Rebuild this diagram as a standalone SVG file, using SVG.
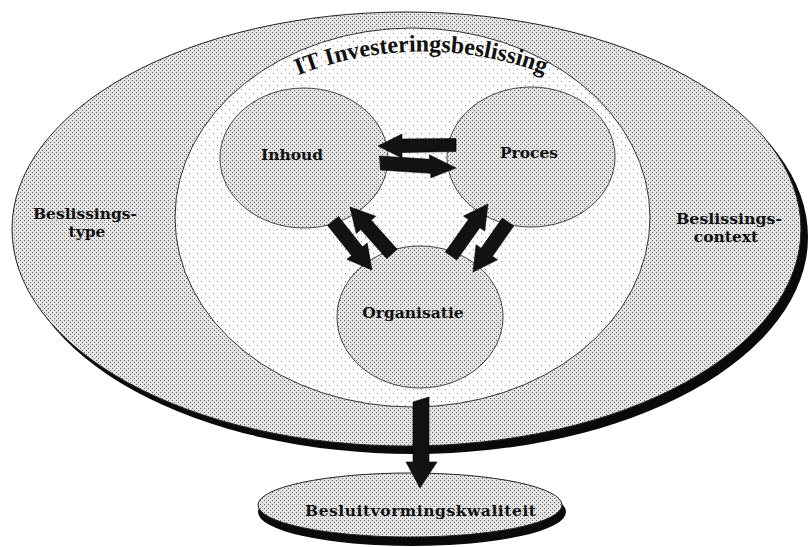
<svg xmlns="http://www.w3.org/2000/svg" width="809" height="547" viewBox="0 0 809 547">
  <defs>
    <!-- fine halftone used for the grey areas -->
    <pattern id="halftone" width="4" height="4" patternUnits="userSpaceOnUse">
      <rect width="4" height="4" fill="#e3e3e3"/>
      <rect x="0" y="0" width="1" height="1" fill="#666"/>
      <rect x="2" y="2" width="1" height="1" fill="#666"/>
    </pattern>
    <!-- sparse dot screen for the light inner area -->
    <pattern id="sparse" width="8" height="8" patternUnits="userSpaceOnUse">
      <rect width="8" height="8" fill="#fcfcfc"/>
      <rect x="1" y="1" width="1" height="1" fill="#888"/>
      <rect x="5" y="5" width="1" height="1" fill="#888"/>
    </pattern>
    <path id="itArc" d="M 298,75.4 A 340 340 0 0 1 548,75.4"/>
  </defs>
  <style>
    .shadow { fill: #0a0a0a; }
    .grey { fill: url(#halftone); stroke: #222; stroke-width: 1; }
    .light { fill: url(#sparse); stroke: #333; stroke-width: 1; }
    .sub { fill: url(#halftone); stroke: #333; stroke-width: 0.9; }
    .arrow { fill: #121212; stroke: #000; stroke-width: 0.6; stroke-linejoin: miter; }
    .lbl { font-family: "DejaVu Serif", "Liberation Serif", serif; font-weight: bold; font-size: 15.5px; fill: #111; text-anchor: middle; }
    .arc { font-family: "Liberation Serif", "DejaVu Serif", serif; font-weight: bold; font-size: 24px; fill: #111; }
  </style>

  <!-- outer context ellipse -->
  <g id="context">
    <ellipse class="shadow" cx="413" cy="237" rx="395" ry="217"/>
    <ellipse class="grey" cx="406.5" cy="229" rx="394.5" ry="217"/>
    <text class="lbl" x="85" y="219" textLength="104" lengthAdjust="spacingAndGlyphs">Beslissings-</text>
    <text class="lbl" x="87" y="237">type</text>
    <text class="lbl" x="729" y="224" textLength="106" lengthAdjust="spacingAndGlyphs">Beslissings-</text>
    <text class="lbl" x="726" y="242">context</text>
  </g>

  <!-- IT investment decision area -->
  <g id="it-beslissing">
    <ellipse class="light" cx="412.5" cy="217.5" rx="237.5" ry="189.5"/>
    <text class="arc"><textPath href="#itArc" textLength="252" lengthAdjust="spacingAndGlyphs">IT Investeringsbeslissing</textPath></text>
  </g>

  <g id="inhoud">
    <ellipse class="sub" cx="304" cy="158" rx="84" ry="70"/>
    <text class="lbl" x="292" y="160">Inhoud</text>
  </g>

  <g id="proces">
    <ellipse class="sub" cx="531" cy="157" rx="84" ry="70"/>
    <text class="lbl" x="529" y="158">Proces</text>
  </g>

  <g id="organisatie">
    <ellipse class="sub" cx="420" cy="317" rx="83" ry="71"/>
    <text class="lbl" x="413" y="318">Organisatie</text>
  </g>

  <!-- outcome ellipse -->
  <g id="kwaliteit">
    <ellipse class="shadow" cx="412" cy="512" rx="154" ry="34"/>
    <ellipse class="grey" cx="410" cy="505" rx="152" ry="32"/>
    <text class="lbl" x="420.5" y="516" textLength="231" lengthAdjust="spacing">Besluitvormingskwaliteit</text>
  </g>

  <!-- connectors -->
  <g id="connectors">
    <!-- Proces -> Inhoud -->
    <polygon class="arrow" points="456,138.5 402,139 402,134 378,146 402,158 402,152.5 456,151.5"/>
    <!-- Inhoud -> Proces -->
    <polygon class="arrow" points="379.5,156 429.6,159.3 429.3,154.8 456,168 430.9,177.8 430.6,173.3 380.5,170"/>
    <!-- Inhoud -> Organisatie -->
    <polygon class="arrow" points="338.5,216.6 362.5,246.8 367.2,243.1 372,270 346.9,259.3 351.6,255.6 327.5,225.4"/>
    <!-- Organisatie -> Inhoud -->
    <polygon class="arrow" points="397.2,249.3 371.2,220.2 375.7,216.2 350,207 356.3,233.6 360.8,229.6 386.8,258.7"/>
    <!-- Organisatie -> Proces -->
    <polygon class="arrow" points="456.7,260.1 479.8,227.7 484.7,231.1 488,204 463.5,216.1 468.4,219.5 445.3,251.9"/>
    <!-- Proces -> Organisatie -->
    <polygon class="arrow" points="502.3,218 481.1,248.3 476.1,244.8 473,272 497.5,259.8 492.5,256.3 513.7,226"/>
    <!-- Organisatie -> Besluitvormingskwaliteit -->
    <polygon class="arrow" points="413,402 429,397 429,462 437,462 420,488 406,462 413,462"/>
  </g>
</svg>
